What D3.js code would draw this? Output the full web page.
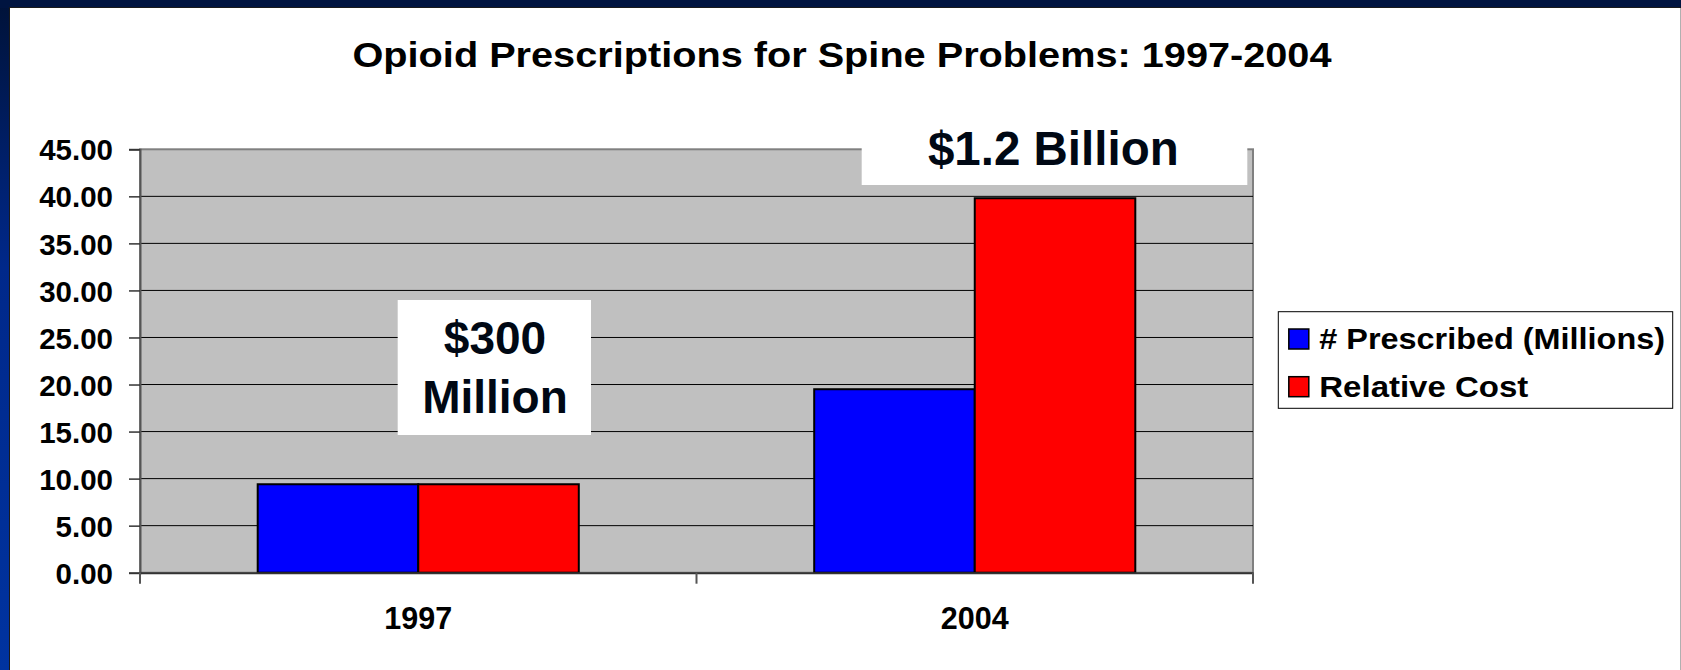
<!DOCTYPE html>
<html>
<head>
<meta charset="utf-8">
<script src="https://cdn.jsdelivr.net/npm/d3@7/dist/d3.min.js"></script>
<style>
  html, body { margin: 0; padding: 0; background: #ffffff; }
  svg { display: block; }
  text { font-family: "Liberation Sans", Arial, Helvetica, sans-serif; font-weight: bold; }
</style>
</head>
<body>
<svg id="chart" width="1681" height="670"></svg>
<script>
// Chart data
const categories = ["1997", "2004"];
const seriesNames = ["# Prescribed (Millions)", "Relative Cost"];
const prescribed = [9.4, 19.5];
const relativeCost = [9.4, 39.8];
const yTickValues = [0, 5, 10, 15, 20, 25, 30, 35, 40, 45];
const seriesColors = ["#0000ff", "#ff0000"];
const chartTitle = "Opioid Prescriptions for Spine Problems: 1997-2004";
const costNotes = [["$300", "Million"], ["$1.2 Billion"]];

const svg = d3.select("#chart");
const W = 1681, H = 670;

// Slide frame: dark blue band on the top and left
const defs = svg.append("defs");
const grad = defs.append("linearGradient").attr("id", "frameGrad")
  .attr("x1", 0).attr("y1", 0).attr("x2", 0).attr("y2", 1);
grad.append("stop").attr("offset", "0%").attr("stop-color", "#001238");
grad.append("stop").attr("offset", "40%").attr("stop-color", "#00288a");
grad.append("stop").attr("offset", "100%").attr("stop-color", "#0033a0");
svg.append("rect").attr("x", 0).attr("y", 0).attr("width", W).attr("height", H).attr("fill", "url(#frameGrad)");
svg.append("rect").attr("x", 0).attr("y", 0).attr("width", W).attr("height", 8).attr("fill", "#001440");
svg.append("rect").attr("x", 9).attr("y", 7).attr("width", W - 9).attr("height", H - 7)
  .attr("fill", "#1a1a1a");
svg.append("rect").attr("x", 10).attr("y", 8).attr("width", W - 11).attr("height", H - 8)
  .attr("fill", "#ffffff");
svg.append("line").attr("x1", W - 0.5).attr("x2", W - 0.5).attr("y1", 8).attr("y2", H)
  .attr("stroke", "#b0b0b0").attr("stroke-width", 1);

// Plot area
const plot = { left: 140, right: 1253, top: 149.3, bottom: 572.7 };

const y = d3.scaleLinear().domain([0, 45]).range([plot.bottom, plot.top]);
const x0 = d3.scaleBand().domain(categories).range([plot.left, plot.right]).paddingInner(0).paddingOuter(0);
const groupFrac = 0.577;
const x1 = d3.scaleBand().domain(seriesNames).range([0, x0.bandwidth() * groupFrac]);
const groupOffset = x0.bandwidth() * (1 - groupFrac) / 2;

svg.append("rect")
  .attr("x", plot.left).attr("y", plot.top)
  .attr("width", plot.right - plot.left).attr("height", plot.bottom - plot.top)
  .attr("fill", "#c0c0c0")
  .attr("stroke", "#808080").attr("stroke-width", 2);

// Horizontal gridlines
svg.append("g").selectAll("line")
  .data(yTickValues.filter(d => d > 0 && d < 45))
  .join("line")
  .attr("x1", plot.left).attr("x2", plot.right)
  .attr("y1", d => y(d)).attr("y2", d => y(d))
  .attr("stroke", "#000000").attr("stroke-width", 1);

// Title
svg.append("text")
  .attr("x", 842).attr("y", 67)
  .attr("text-anchor", "middle")
  .attr("font-size", 35)
  .attr("textLength", 979).attr("lengthAdjust", "spacingAndGlyphs")
  .attr("fill", "#000000")
  .text(chartTitle);

// Bars
const rows = categories.map((c, i) => ({ category: c, values: [prescribed[i], relativeCost[i]] }));
const groups = svg.append("g").selectAll("g")
  .data(rows)
  .join("g")
  .attr("transform", d => `translate(${x0(d.category) + groupOffset},0)`);
groups.selectAll("rect")
  .data(d => d.values.map((v, k) => ({ name: seriesNames[k], value: v, color: seriesColors[k] })))
  .join("rect")
  .attr("x", d => x1(d.name))
  .attr("y", d => y(d.value))
  .attr("width", x1.bandwidth())
  .attr("height", d => y(0) - y(d.value))
  .attr("fill", d => d.color)
  .attr("stroke", "#000000").attr("stroke-width", 2);

// Y axis
const yAxis = d3.axisLeft(y).tickValues(yTickValues).tickFormat(d3.format(".2f"))
  .tickSize(11).tickPadding(16);
const gy = svg.append("g").attr("transform", `translate(${plot.left},0)`).call(yAxis);
gy.select(".domain").attr("stroke", "#555555").attr("stroke-width", 2);
gy.selectAll(".tick line").attr("stroke", "#333333").attr("stroke-width", 1.5);
gy.selectAll(".tick text")
  .attr("font-size", 29.5).attr("fill", "#000000")
  .attr("font-family", "'Liberation Sans', Arial, sans-serif").attr("font-weight", "bold")
  .attr("dy", "0.36em");

// X axis: tick marks between categories, labels at centers
const gx = svg.append("g").attr("transform", `translate(0,${plot.bottom})`)
  .call(d3.axisBottom(x0).tickSize(0).tickPadding(50));
gx.select(".domain").attr("stroke", "#333333").attr("stroke-width", 2);
gx.selectAll(".tick text")
  .attr("font-size", 30.5).attr("fill", "#000000")
  .attr("font-family", "'Liberation Sans', Arial, sans-serif").attr("font-weight", "bold")
  .attr("dy", "0.2em");
const bandEdges = categories.map(c => x0(c)).concat([plot.right]);
svg.append("g").selectAll("line")
  .data(bandEdges)
  .join("line")
  .attr("x1", d => d).attr("x2", d => d)
  .attr("y1", plot.bottom).attr("y2", plot.bottom + 11)
  .attr("stroke", "#555555").attr("stroke-width", 2);

// Cost notes in white boxes
const noteColor = "#000814";
svg.append("rect").attr("x", 397.7).attr("y", 300).attr("width", 193.3).attr("height", 135).attr("fill", "#ffffff");
const note1 = svg.append("text").attr("text-anchor", "middle").attr("fill", noteColor).attr("font-size", 46);
note1.append("tspan").attr("x", 495).attr("y", 354).text(costNotes[0][0]);
note1.append("tspan").attr("x", 495).attr("y", 413).text(costNotes[0][1]);

svg.append("rect").attr("x", 861.7).attr("y", 140).attr("width", 385.6).attr("height", 45).attr("fill", "#ffffff");
svg.append("text").attr("x", 1053.3).attr("y", 165).attr("text-anchor", "middle")
  .attr("fill", noteColor).attr("font-size", 47.5)
  .text(costNotes[1][0]);

// Legend
const legend = svg.append("g");
legend.append("rect").attr("x", 1278.3).attr("y", 311.7).attr("width", 394.4).attr("height", 96.6)
  .attr("fill", "#ffffff").attr("stroke", "#000000").attr("stroke-width", 1);
const legendRows = legend.selectAll("g.item")
  .data(seriesNames.map((n, k) => ({ name: n, color: seriesColors[k], width: [345.7, 209][k] })))
  .join("g").attr("class", "item")
  .attr("transform", (d, k) => `translate(0,${k * 47.7})`);
legendRows.append("rect")
  .attr("x", 1288.8).attr("y", 329).attr("width", 20).attr("height", 20)
  .attr("fill", d => d.color).attr("stroke", "#000000").attr("stroke-width", 1.5);
legendRows.append("text")
  .attr("x", 1319.3).attr("y", 349)
  .attr("font-size", 30).attr("fill", "#000000")
  .attr("textLength", d => d.width).attr("lengthAdjust", "spacingAndGlyphs")
  .text(d => d.name);
</script>
</body>
</html>
